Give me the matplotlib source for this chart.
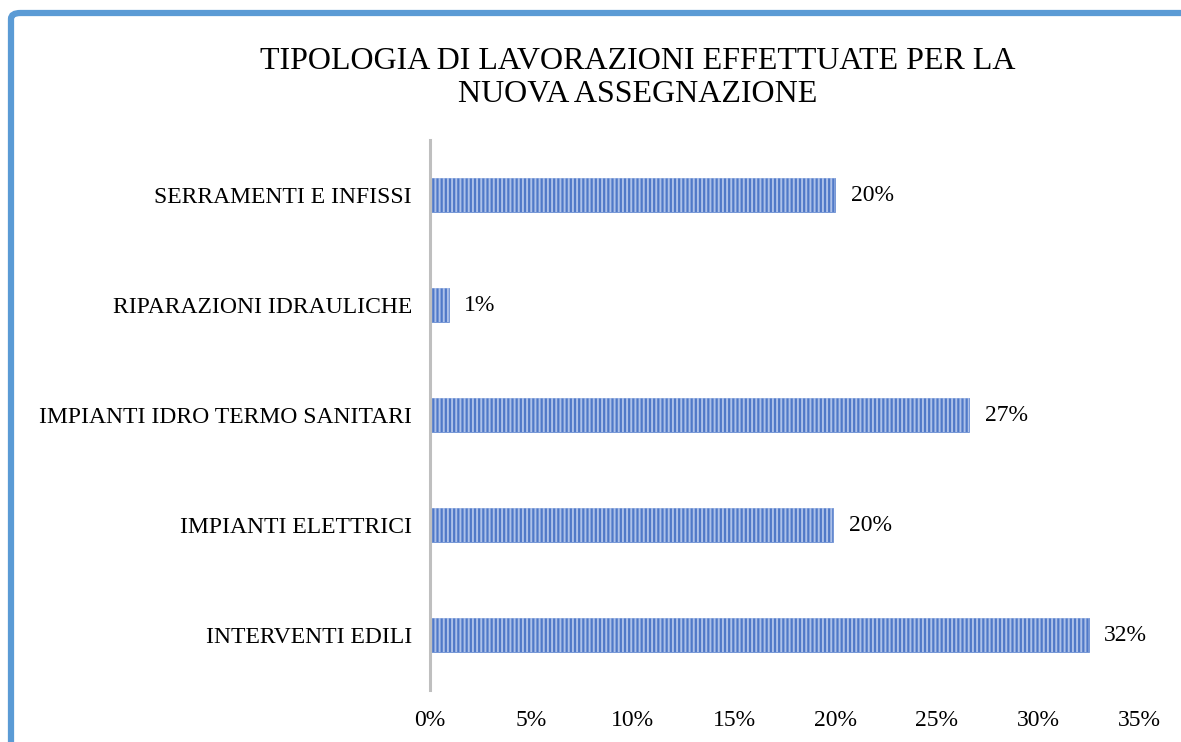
import matplotlib.pyplot as plt
from matplotlib.patches import FancyBboxPatch
from matplotlib.ticker import FuncFormatter

categories = ['INTERVENTI EDILI', 'IMPIANTI ELETTRICI', 'IMPIANTI IDRO TERMO SANITARI',
              'RIPARAZIONI IDRAULICHE', 'SERRAMENTI E INFISSI']
values = [32.5, 19.9, 26.6, 0.95, 20.0]
labels = ['32%', '20%', '27%', '1%', '20%']
ticks = [0, 5, 10, 15, 20, 25, 30, 35]

plt.rcParams['font.family'] = ['Liberation Serif', 'DejaVu Serif']
plt.rcParams['hatch.linewidth'] = 1.4

fig = plt.figure(figsize=(11.81, 7.42), dpi=100)
ax = fig.add_axes([0.364, 0.070, 0.601, 0.741])

# blue rounded frame, cut at the right and bottom edges
W, H = 1181, 742
frame = FancyBboxPatch((11 / W, -0.1), 1.2, 1 - 13 / H + 0.1,
                       boxstyle='round,pad=0,rounding_size=0.008',
                       transform=fig.transFigure, facecolor='none',
                       edgecolor='#5B9BD5', linewidth=4.5, clip_on=False)
fig.patches.append(frame)

pos = range(len(categories))
ax.barh(pos, values, height=0.31, color='#5079C8', edgecolor='#7193D4', linewidth=0.6)
ax.barh(pos, values, height=0.31, color='none', edgecolor='#ADC1E9', hatch='||||', linewidth=0)

for p, v, t in zip(pos, values, labels):
    ax.text(v + 0.75, p, t, va='center', ha='left', fontsize=17)

ax.set_xlim(0, 35)
ax.set_ylim(-0.5, 4.5)
ax.set_xticks(ticks)
ax.xaxis.set_major_formatter(FuncFormatter(lambda x, _: f'{x:.0f}%'))
ax.set_yticks(list(pos))
ax.set_yticklabels(categories)
ax.tick_params(axis='both', length=0, labelsize=17)
ax.tick_params(axis='x', pad=14)
ax.tick_params(axis='y', pad=13)
for s in ['top', 'right', 'bottom']:
    ax.spines[s].set_visible(False)
ax.spines['left'].set_color('#BFBFBF')
ax.spines['left'].set_linewidth(2.2)

fig.text(0.54, 0.895, 'TIPOLOGIA DI LAVORAZIONI EFFETTUATE PER LA\nNUOVA ASSEGNAZIONE',
         ha='center', va='center', fontsize=23, linespacing=1.15)

fig.savefig('out.png', dpi=100)
